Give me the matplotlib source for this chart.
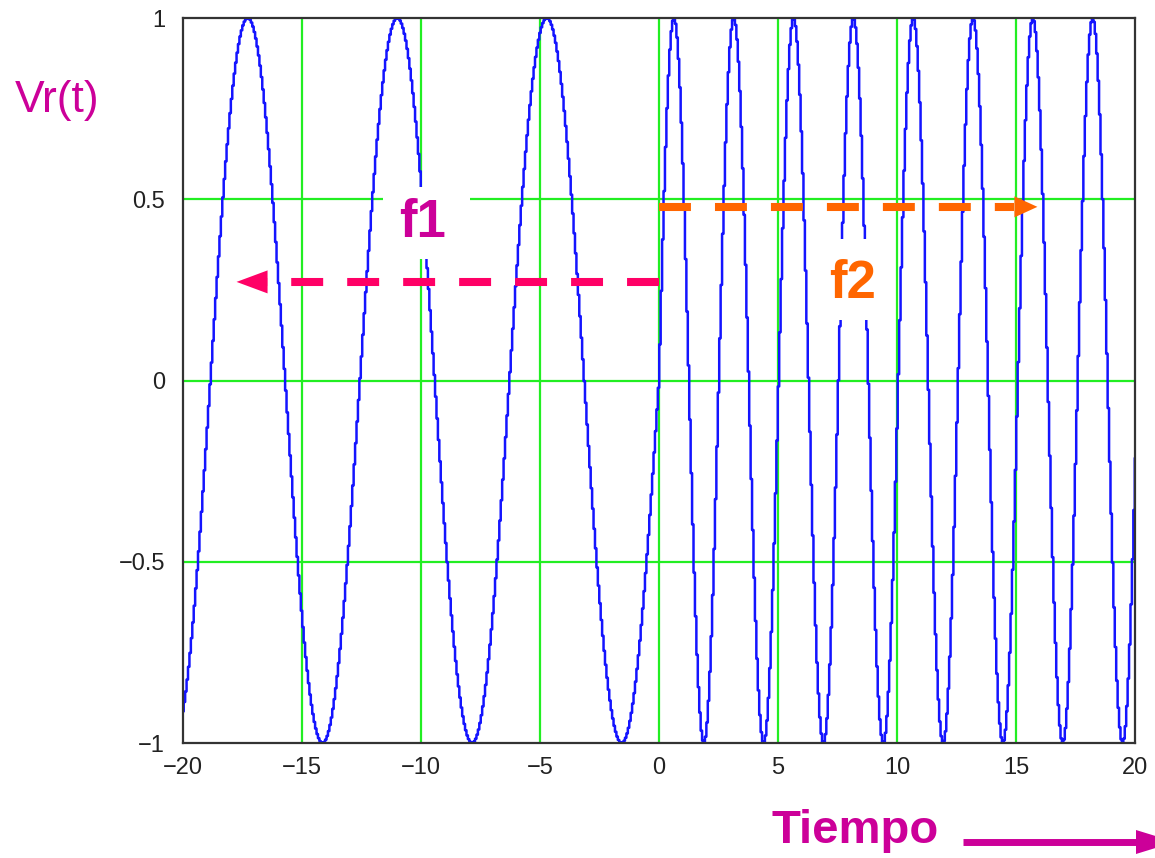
import numpy as np
import matplotlib
matplotlib.use("Agg")
import matplotlib.pyplot as plt
from matplotlib.patches import Polygon, Rectangle
from matplotlib.transforms import Affine2D, ScaledTranslation

# ---------------- data ----------------
t_start, t_end = -20.0, 20.0
sample_step = 0.06           # sampling of the plotted signal
omega_f1 = 1.0               # angular frequency for t < 0  (f1)
omega_f2 = 2.5               # angular frequency for t >= 0 (f2)
amplitude = 1.0

x_ticks = [-20, -15, -10, -5, 0, 5, 10, 15, 20]
x_tick_labels = ["\u221220", "\u221215", "\u221210", "\u22125", "0", "5", "10", "15", "20"]
y_ticks = [-1, -0.5, 0, 0.5, 1]
y_tick_labels = ["\u22121", "\u22120.5", "0", "0.5", "1"]

# annotation arrows (data coords): y, line start, head base, tip
f1_arrow = (0.272, 0.0, -16.45, -17.75)
f2_arrow = (0.479, 0.0, 14.92, 15.90)
# label boxes: x0, x1, y0, y1 ; label positions: x, baseline y
f1_box = (-11.6, -7.94, 0.334, 0.535)
f2_box = (6.43, 9.90, 0.168, 0.39)
f1_label = (-9.92, 0.396)
f2_label = (8.15, 0.228)

# ---------------- style ----------------
BLUE = "#1414FF"
GRID = "#22EE22"
PINK = "#FF0066"
ORANGE = "#FF6600"
MAGENTA = "#CC0099"

plt.rcParams["lines.scale_dashes"] = False

W, H = 1155, 858
fig = plt.figure(figsize=(W / 100, H / 100), dpi=100)
fig.patch.set_facecolor("white")
ax = fig.add_axes([183 / W, 1 - 743 / H, 952 / W, 725 / H])

t = np.arange(t_start, t_end + sample_step, sample_step)
v = np.where(t < 0, amplitude * np.sin(omega_f1 * t), amplitude * np.sin(omega_f2 * t))
ax.plot(t, v, color=BLUE, lw=1.8, drawstyle="steps-mid", zorder=3)

ax.set_xlim(t_start, t_end)
ax.set_ylim(-1, 1)
ax.set_xticks(x_ticks)
ax.set_xticklabels(x_tick_labels)
ax.set_yticks(y_ticks)
ax.set_yticklabels(y_tick_labels)
for tx in x_ticks[1:-1]:
    ax.axvline(tx, color=GRID, lw=1.6, zorder=1)
for ty in y_ticks[1:-1]:
    ax.axhline(ty, color=GRID, lw=1.6, zorder=1)

ax.tick_params(length=0, labelsize=17, labelcolor="#222222")
ax.tick_params(axis="x", pad=10)
ax.tick_params(axis="y", pad=13)
for lab in ax.get_xticklabels() + ax.get_yticklabels():
    lab.set_fontfamily("Liberation Sans")
for sp in ax.spines.values():
    sp.set_color("#333333")
    sp.set_linewidth(1.6)
    sp.set_zorder(6)

# white boxes behind labels
for (x0, x1, y0, y1) in (f1_box, f2_box):
    ax.add_patch(Rectangle((x0, y0), x1 - x0, y1 - y0, facecolor="white",
                           edgecolor="none", zorder=4))
ax.text(f1_label[0], f1_label[1], "f1", color=MAGENTA, fontsize=38, fontweight="bold",
        family="Liberation Sans", ha="center", va="baseline", zorder=5)
ax.text(f2_label[0], f2_label[1], "f2", color=ORANGE, fontsize=38, fontweight="bold",
        family="Liberation Sans", ha="center", va="baseline", zorder=5)


def dashed_arrow(spec, color, head_len_px, head_half_px):
    y, xs, xb, xtip = spec
    ax.plot([xs, xb], [y, y], color=color, lw=5.8, solid_capstyle="butt",
            dash_capstyle="butt", dashes=(23.0, 17.3), zorder=5)
    d = 1 if xtip > xb else -1
    verts = [(0, 0), (-d * head_len_px, head_half_px), (-d * head_len_px, -head_half_px)]
    tr = Affine2D() + ScaledTranslation(xtip, y, ax.transData)
    ax.add_patch(Polygon(verts, closed=True, facecolor=color, edgecolor="none",
                         transform=tr, zorder=5, clip_on=False))


dashed_arrow(f1_arrow, PINK, 31, 11.5)
dashed_arrow(f2_arrow, ORANGE, 23, 10.5)

# outer labels
fig.text(15 / W, 1 - 112 / H, "Vr(t)", color=MAGENTA, fontsize=32,
         family="Liberation Sans", ha="left", va="baseline")
fig.text(771 / W, 1 - 843 / H, "Tiempo", color=MAGENTA, fontsize=34, fontweight="bold",
         family="Liberation Sans", ha="left", va="baseline")
fig.add_artist(plt.Line2D([963 / W, 1140 / W], [1 - 842 / H, 1 - 842 / H],
                          transform=fig.transFigure, color=MAGENTA, lw=5.0,
                          solid_capstyle="butt"))
fig.add_artist(Polygon([(1136 / W, 1 - 830 / H), (1136 / W, 1 - 854 / H),
                        (1175 / W, 1 - 842 / H)], closed=True,
                       transform=fig.transFigure, facecolor=MAGENTA, edgecolor="none"))

fig.savefig("out.png", dpi=100, facecolor="white")
